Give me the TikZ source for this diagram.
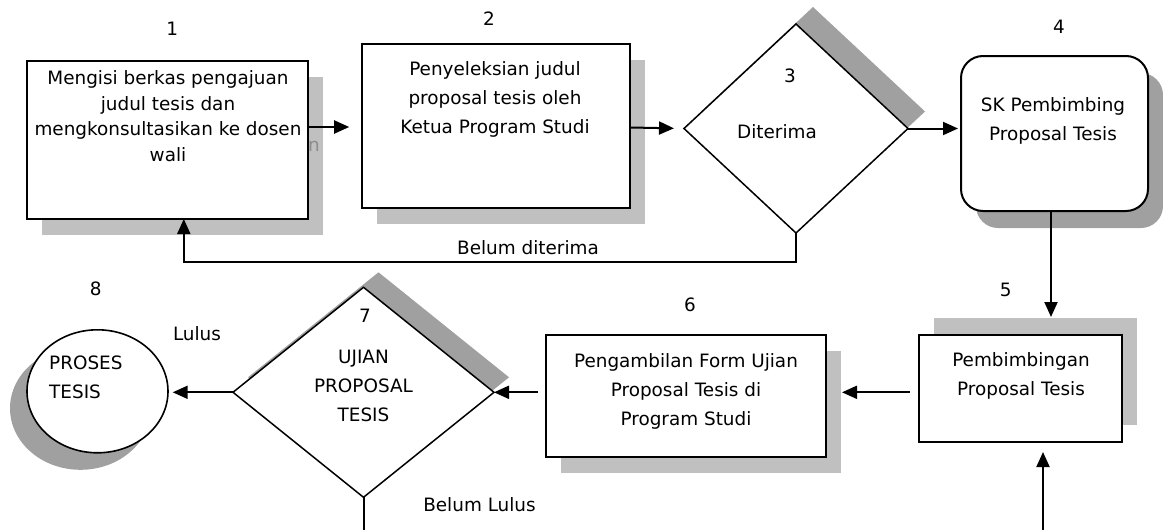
\documentclass[tikz,border=0pt]{standalone}
\usepackage{fontspec}
\setmainfont{DejaVu Sans}
\usetikzlibrary{arrows.meta,shapes.geometric,shadows}
\definecolor{shlight}{RGB}{192,192,192}
\definecolor{shdark}{RGB}{160,160,160}
\definecolor{ghostgray}{RGB}{140,140,140}
\begin{document}
\begin{tikzpicture}[x=1pt,y=-1pt,
  font=\fontsize{18.4}{29}\selectfont,
  box/.style={rectangle, draw, line width=2pt, fill=white, inner sep=0pt, outer sep=0pt},
  dia/.style={diamond, draw, line width=1.5pt, fill=white, inner sep=0pt, outer sep=0pt},
  arr/.style={line width=2pt, -{Triangle[length=15pt,width=13pt]}},
  ln/.style={line width=2pt},
  txt/.style={align=center, inner sep=0pt},
  num/.style={inner sep=0pt},
  lightsh/.style={drop shadow={shadow xshift=#1, fill=shlight, opacity=1}},
]
\useasboundingbox (0,0) rectangle (1163,530);
\fill[white] (0,0) rectangle (1163,530);

% ---- shapes ----
\node[box, minimum width=281pt, minimum height=158pt,
  drop shadow={shadow xshift=15pt, shadow yshift=-16pt, fill=shlight, opacity=1}] (b1) at (167.8,140) {};
\node[text=ghostgray, inner sep=0pt] (ghost) at (314,146) {n};
\node[box, minimum width=268pt, minimum height=164pt,
  drop shadow={shadow xshift=15pt, shadow yshift=-16pt, fill=shlight, opacity=1}] (b2) at (495.9,126.3) {};
\node[dia, minimum width=224pt, minimum height=209pt,
  drop shadow={shadow xshift=17pt, shadow yshift=17pt, fill=shdark, opacity=1}] (d3) at (796,128.5) {};
\node[box, rounded corners=22pt, minimum width=187pt, minimum height=155pt,
  drop shadow={shadow xshift=15pt, shadow yshift=-17pt, fill=shdark, opacity=1}] (b4) at (1054.5,133.5) {};
\node[box, minimum width=203pt, minimum height=107pt,
  drop shadow={shadow xshift=15pt, shadow yshift=17pt, fill=shlight, opacity=1}] (b5) at (1020.5,388.5) {};
\node[box, minimum width=280pt, minimum height=122pt,
  drop shadow={shadow xshift=15pt, shadow yshift=-16pt, fill=shlight, opacity=1}] (b6) at (686,396) {};
\node[dia, minimum width=261pt, minimum height=210pt,
  drop shadow={shadow xshift=15pt, shadow yshift=15pt, fill=shdark, opacity=1}] (d7) at (363.5,392.3) {};
\node[ellipse, draw, line width=1.6pt, fill=white, inner sep=0pt, outer sep=0pt,
  minimum width=141pt, minimum height=123pt,
  drop shadow={shadow xshift=-17pt, shadow yshift=-17pt, fill=shdark, opacity=1}] (c8) at (97.5,391.3) {};

% ---- texts inside shapes ----
\node[txt, font=\fontsize{18.4}{25.5}\selectfont] (t1) at (168,116)
  {Mengisi berkas pengajuan\\judul tesis dan\\mengkonsultasikan ke dosen\\wali};
\node[txt] (t2) at (495,99) {Penyeleksian judul\\proposal tesis oleh\\Ketua Program Studi};
\node[num] (n3) at (790,76) {3};
\node[num] (t3) at (777,132) {Diterima};
\node[txt] (t4) at (1053,120.5) {SK Pembimbing\\Proposal Tesis};
\node[txt] (t5) at (1021,376) {Pembimbingan\\Proposal Tesis};
\node[txt] (t6) at (686,391.7) {Pengambilan Form Ujian\\Proposal Tesis di\\Program Studi};
\node[num] (n7) at (365,316) {7};
\node[txt] (t7) at (363.5,386) {UJIAN\\PROPOSAL\\TESIS};
\node[txt, align=left, anchor=west] (t8) at (49,377.5) {PROSES\\TESIS};

% ---- numbers and labels ----
\node[num] (n1) at (172.3,28.3) {1};
\node[num] (n2) at (489,18.3) {2};
\node[num] (n4) at (1059,26.7) {4};
\node[num] (n5) at (1005.7,290) {5};
\node[num] (n6) at (690,305) {6};
\node[num] (n8) at (95.7,289) {8};
\node[num] (lulus) at (197,334) {Lulus};
\node[num] (bd) at (528,248) {Belum diterima};
\node[num] (bl) at (479.5,505) {Belum Lulus};

% ---- connectors ----
\coordinate (rb) at (0,262);
\coordinate (bot) at (0,532);
\coordinate (in5) at (1043,532);

\draw[arr, shorten >=12.7pt] (b1.east |- 0,127) -- (b2.west |- 0,127);
\draw[arr, shorten >=10pt] (b2.east |- 0,127.5) -- (d3.west);
\draw[arr, shorten >=3pt] (d3.east) -- (d3.east -| b4.west);
\draw[arr, shorten >=18pt] ([xshift=-3.5pt]b4.south) -- ([xshift=-3.5pt]b4.south |- b5.north);
\draw[arr, shorten <=9pt, shorten >=16pt] (b5.west |- d7.east) -- (b6.east |- d7.east);
\draw[arr, shorten <=8pt] (b6.west |- d7.east) -- (d7.east);
\draw[arr, shorten >=4.7pt] (d7.west) -- (d7.west -| c8.east);
\draw[arr] (d3.south) -- (d3.south |- rb) -| ([xshift=16pt]b1.south);
\draw[ln] (d7.south) -- (d7.south |- bot);
\draw[arr, shorten >=10pt] (in5) -- (in5 |- b5.south);
\end{tikzpicture}
\end{document}
